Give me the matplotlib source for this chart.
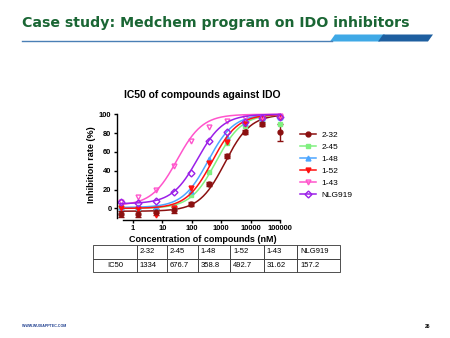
import numpy as np
import matplotlib
matplotlib.use("Agg")
import matplotlib.pyplot as plt
from matplotlib.patches import Polygon
from matplotlib.lines import Line2D

plt.rcParams['font.family'] = ['Liberation Sans', 'DejaVu Sans']

# concentrations (nM), 4-fold dilution series
conc = [0.38, 1.53, 6.1, 24.4, 97.7, 390.6, 1562.5, 6250, 25000, 100000]

names = ['2-32', '2-45', '1-48', '1-52', '1-43', 'NLG919']
ic50 = [1334, 676.7, 358.8, 492.7, 31.62, 157.2]
ic50_txt = ['1334', '676.7', '358.8', '492.7', '31.62', '157.2']

# inhibition rate (%)
y_232 = [-6, -6, -4, -2, 5, 26, 56, 81, 90, 81]
y_245 = [1, 0, 0, 1, 14, 39, 69, 88, 95, 90]
y_148 = [2, 1, 1, 2, 19, 52, 76, 91, 96, 97]
y_152 = [0, -1, -7, 0, 22, 48, 71, 90, 96, 97]
y_143 = [7, 12, 20, 45, 72, 86, 93, 96, 97, 98]
y_nlg = [7, 6, 8, 17, 38, 72, 81, 92, 96, 97]
err_232 = [3, 3, 3, 3, 2, 2, 2, 2, 2, 9]

# fitted curve params (bottom, top, hill)
bottoms = [-3, 0, 1, 0, 3, 5]
tops = [100, 100, 100, 100, 100, 100]
hills = [1.0, 1.0, 1.0, 1.0, 1.0, 1.0]

series = [y_232, y_245, y_148, y_152, y_143, y_nlg]
colors = ['#8B1010', '#80F080', '#4DA6FF', '#FF1010', '#FF55CC', '#9B1FE8']
markers = ['o', 's', '^', 'v', 'v', 'D']
filled = [True, True, True, True, False, False]

fig = plt.figure(figsize=(4.5, 3.38), dpi=100)

# header
fig.text(22 / 450, 1 - 23 / 338, 'Case study: Medchem program on IDO inhibitors',
         fontsize=10.2, fontweight='bold', color='#1A6634', va='center',
         family='DejaVu Sans')
fig.add_artist(Line2D([22 / 450, 332 / 450], [1 - 41 / 338] * 2, color='#4A7FB5', lw=1))
def para(x0, x1, c):
    pts = [(x0 / 450, 1 - 41.5 / 338), (x1 / 450, 1 - 41.5 / 338),
           ((x1 + 5) / 450, 1 - 34.5 / 338), ((x0 + 5) / 450, 1 - 34.5 / 338)]
    fig.add_artist(Polygon(pts, closed=True, color=c, lw=0))
para(330, 380, '#3FA9E6')
para(378, 428, '#1E5FA0')

# footer
fig.text(22 / 450, 1 - 326 / 338, 'WWW.WUXIAPPTEC.COM', fontsize=2.6, fontweight='bold',
         color='#1F3F8F', va='center')
fig.text(425 / 450, 1 - 326 / 338, '26', fontsize=3.5, fontweight='bold', va='center')

# main chart
ax = fig.add_axes([117 / 450, 0.350, 171 / 450, 0.323])
xs = np.logspace(np.log10(0.38), 5, 300)
handles = []
for i in range(len(names)):
    yc = bottoms[i] + (tops[i] - bottoms[i]) / (1 + (ic50[i] / xs) ** hills[i])
    ax.plot(xs, yc, color=colors[i], lw=1.1)
    mfc = colors[i] if filled[i] else 'none'
    if i == 0:
        ax.errorbar(conc, series[i], yerr=err_232, fmt=markers[i], color=colors[i],
                    ms=3.5, mfc=mfc, mew=1.0, elinewidth=1.0, capsize=2.5)
    else:
        ax.plot(conc, series[i], markers[i], color=colors[i], ms=3.5, mfc=mfc, mew=1.0)
    handles.append(Line2D([], [], color=colors[i], marker=markers[i], ms=3.5, mfc=mfc,
                          mew=1.0, lw=1.1, label=names[i]))

ax.set_xscale('log')
ax.set_xlim(0.286, 187000)
ax.set_ylim(-12, 104)
ax.set_xticks([1, 10, 100, 1000, 10000, 100000])
ax.set_xticklabels(['1', '10', '100', '1000', '10000', '100000'])
ax.minorticks_off()
ax.set_yticks([0, 20, 40, 60, 80, 100])
ax.spines['top'].set_visible(False)
ax.spines['right'].set_visible(False)
ax.spines['left'].set_bounds(-10, 100)
ax.spines['bottom'].set_bounds(0.45, 100000)
for s in ['left', 'bottom']:
    ax.spines[s].set_linewidth(1.0)
ax.tick_params(labelsize=5.4, width=1.0, length=2.5, pad=1.5)
for lab in ax.get_xticklabels() + ax.get_yticklabels():
    lab.set_fontweight('bold')
ax.set_title('IC50 of compounds against IDO', fontsize=7.5, fontweight='bold', pad=9)
ax.set_xlabel('Concentration of compounds (nM)', fontsize=6.5, fontweight='bold', labelpad=2)
ax.set_ylabel('Inhibition rate (%)', fontsize=6.5, fontweight='bold', labelpad=2)

ax.legend(handles=handles, loc='upper left', bbox_to_anchor=(292 / 450, 1 - 124 / 338),
          bbox_transform=fig.transFigure, frameon=False, fontsize=6,
          handlelength=2.0, labelspacing=0.5, handletextpad=0.6)

# IC50 table
axt = fig.add_axes([93 / 450, 1 - 272 / 338, 247 / 450, 27 / 338])
axt.axis('off')
cells = [[''] + names, ['IC50'] + ic50_txt]
widths = [44, 30, 31, 33, 34, 33, 43]
tb = axt.table(cellText=cells, colWidths=[w / sum(widths) for w in widths],
               bbox=[0, 0, 1, 1], cellLoc='center')
tb.auto_set_font_size(False)
for (r, c), cell in tb.get_celld().items():
    cell.set_fontsize(5.5)
    cell.set_linewidth(0.6)
    cell.set_edgecolor('#333333')
    if c > 0:
        cell.get_text().set_ha('left')
        cell._loc = 'left'
        cell.PAD = 0.08

fig.savefig('out.png', dpi=100)
